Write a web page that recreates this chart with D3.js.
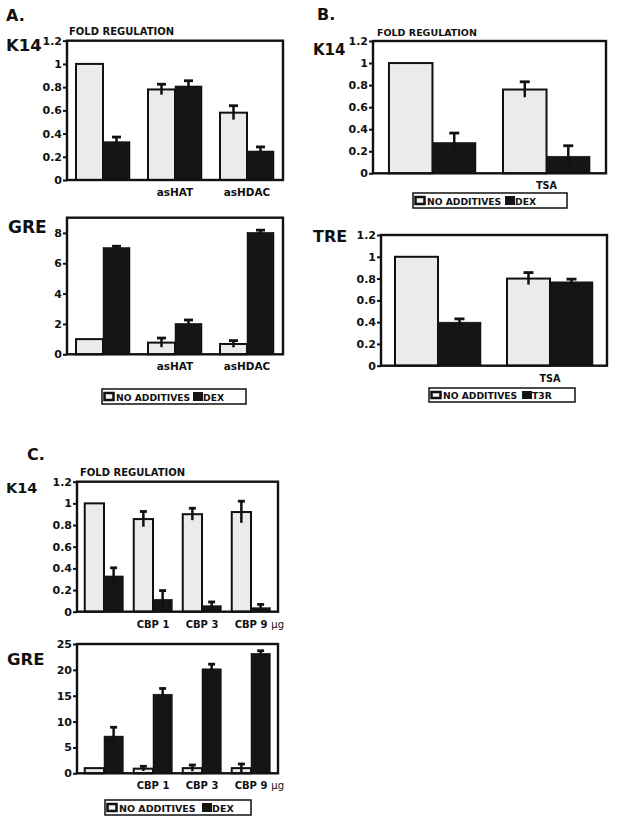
<!DOCTYPE html>
<meta charset="utf-8">
<style>
body { margin: 0; background: #fff; }
text { font-family: "DejaVu Sans", sans-serif; font-weight: bold; fill: #111; }
.tick text { font-size: 11px; }
.tick line { stroke: #111; stroke-width: 2; }
</style>
<svg width="617" height="824"></svg>
<script src="https://d3js.org/d3.v7.min.js"></script>
<script>

// panel A: K14 and GRE, antisense HAT / HDAC
var aCats = ["", "asHAT", "asHDAC"];
var aK14Light = [1.0, 0.78, 0.58],   aK14LightErr = [0, 0.045, 0.06];
var aK14Dark  = [0.33, 0.81, 0.25],  aK14DarkErr  = [0.04, 0.045, 0.035];
var aGreLight = [1.0, 0.77, 0.68],   aGreLightErr = [0, 0.3, 0.22];
var aGreDark  = [7.04, 2.04, 8.04],  aGreDarkErr  = [0.08, 0.22, 0.14];

// panel B: K14 and TRE, TSA
var bCats = ["", "TSA"];
var bK14Light = [1.0, 0.76],  bK14LightErr = [0, 0.07];
var bK14Dark  = [0.28, 0.155], bK14DarkErr = [0.085, 0.095];
var bTreLight = [1.0, 0.80],  bTreLightErr = [0, 0.055];
var bTreDark  = [0.40, 0.77], bTreDarkErr  = [0.03, 0.025];

// panel C: K14 and GRE, CBP dose
var cCats = ["", "CBP 1", "CBP 3", "CBP 9 μg"];
var cK14Light = [1.0, 0.855, 0.90, 0.92],  cK14LightErr = [0, 0.07, 0.055, 0.1];
var cK14Dark  = [0.33, 0.115, 0.055, 0.037], cK14DarkErr = [0.075, 0.08, 0.035, 0.03];
var cGreLight = [1.0, 0.9, 1.0, 1.0],      cGreLightErr = [0, 0.45, 0.6, 0.8];
var cGreDark  = [7.2, 15.3, 20.2, 23.2],   cGreDarkErr  = [1.7, 1.1, 0.9, 0.5];

var ticksFold = [0, 0.2, 0.4, 0.6, 0.8, 1, 1.2];
var ticksGreA = [0, 2, 4, 6, 8];
var ticksGreC = [0, 5, 10, 15, 20, 25];

var legendDex = ["NO ADDITIVES", "DEX"];
var legendDex2 = ["NO  ADDITIVES", "DEX"];
var legendT3r = ["NO  ADDITIVES", "T3R"];

var svg = d3.select("svg");

function panel(o) {
  var x = d3.scaleBand().domain(o.cats).range([o.left, o.right])
      .paddingInner(o.pi).paddingOuter(o.po);
  var sub = d3.scaleBand().domain(["light", "dark"]).range([0, x.bandwidth()]);
  var y = d3.scaleLinear().domain([0, o.max]).range([o.bottom, o.top]);
  var g = svg.append("g");

  var rows = o.cats.map(function(c, i) {
    return [
      {c: c, s: "light", v: o.light[i], e: o.lightErr[i]},
      {c: c, s: "dark", v: o.dark[i], e: o.darkErr[i]}
    ];
  }).flat();

  g.selectAll(".bar").data(rows).enter().append("rect")
      .attr("x", function(d) { return x(d.c) + sub(d.s); })
      .attr("y", function(d) { return y(d.v); })
      .attr("width", sub.bandwidth())
      .attr("height", function(d) { return y(0) - y(d.v); })
      .attr("fill", function(d) { return d.s == "light" ? "#ebebeb" : "#151515"; })
      .attr("stroke", "#111")
      .attr("stroke-width", function(d) { return d.s == "light" ? 2 : 0.5; });

  var errs = rows.filter(function(d) { return d.e > 0; });
  var cx = function(d) { return x(d.c) + sub(d.s) + sub.bandwidth() / 2; };
  g.selectAll(".err").data(errs).enter().append("line")
      .attr("x1", cx).attr("x2", cx)
      .attr("y1", function(d) { return y(d.v - d.e); })
      .attr("y2", function(d) { return y(d.v + d.e); })
      .attr("stroke", "#111").attr("stroke-width", 2.5);
  g.selectAll(".cap").data(errs).enter().append("line")
      .attr("x1", function(d) { return cx(d) - o.cap / 2; })
      .attr("x2", function(d) { return cx(d) + o.cap / 2; })
      .attr("y1", function(d) { return y(d.v + d.e); })
      .attr("y2", function(d) { return y(d.v + d.e); })
      .attr("stroke", "#111").attr("stroke-width", 2.8);

  g.append("rect")
      .attr("x", o.left).attr("y", o.top)
      .attr("width", o.right - o.left).attr("height", o.bottom - o.top)
      .attr("fill", "none").attr("stroke", "#111").attr("stroke-width", 2.4);

  var ax = g.append("g")
      .attr("transform", "translate(" + o.left + ",0)")
      .call(d3.axisLeft(y).tickValues(o.ticks).tickSize(4).tickPadding(1)
        .tickFormat(d3.format("~g")));
  ax.select(".domain").remove();

  o.cats.forEach(function(c) {
    if (!c) return;
    var m = x(c) + x.bandwidth() / 2;
    var parts = c.split(" μg");
    var t = g.append("text").attr("x", m).attr("y", o.bottom + 16)
        .attr("text-anchor", "middle").attr("font-size", o.labelSize).text(parts[0]);
    if (parts.length > 1) {
      var w = t.node().getComputedTextLength();
      g.append("text").attr("x", m + w / 2 + 4).attr("y", o.bottom + 16)
          .attr("font-size", o.labelSize).style("font-weight", "normal").text("μg");
    }
  });
}

function legend(x0, y0, w, h, labels, darkX, size) {
  var g = svg.append("g");
  g.append("rect").attr("x", x0).attr("y", y0).attr("width", w).attr("height", h)
      .attr("fill", "#fff").attr("stroke", "#111").attr("stroke-width", 1.5);
  g.append("rect").attr("x", x0 + 2.5).attr("y", y0 + 4).attr("width", 9).attr("height", h - 8)
      .attr("fill", "#f2f2f2").attr("stroke", "#111").attr("stroke-width", 2.5);
  g.append("text").attr("x", x0 + 14).attr("y", y0 + h - 3.5)
      .attr("font-size", size).text(labels[0]);
  g.append("rect").attr("x", darkX).attr("y", y0 + 3).attr("width", 10).attr("height", h - 6)
      .attr("fill", "#151515");
  g.append("text").attr("x", darkX + 10).attr("y", y0 + h - 3.5)
      .attr("font-size", size).text(labels[1]);
}

function label(x, y, size, s) {
  svg.append("text").attr("x", x).attr("y", y).attr("font-size", size).text(s);
}

// panel A
label(6, 21, 16, "A.");
label(69, 35, 10, "FOLD REGULATION");
label(6, 51, 16.5, "K14");
panel({cats: aCats, light: aK14Light, lightErr: aK14LightErr, dark: aK14Dark, darkErr: aK14DarkErr,
  left: 67, right: 283, top: 40.7, bottom: 180, max: 1.2, ticks: ticksFold,
  pi: 0.25, po: 0.125, cap: 9, labelSize: 10.5});
label(8, 233, 17, "GRE");
panel({cats: aCats, light: aGreLight, lightErr: aGreLightErr, dark: aGreDark, darkErr: aGreDarkErr,
  left: 67, right: 283, top: 217.7, bottom: 354.3, max: 9, ticks: ticksGreA,
  pi: 0.25, po: 0.125, cap: 9, labelSize: 10.5});
legend(102, 389, 144, 15, legendDex, 193, 9.2);

// panel B
label(317, 20, 16, "B.");
label(377, 36, 9.5, "FOLD REGULATION");
label(313, 55, 15, "K14");
panel({cats: bCats, light: bK14Light, lightErr: bK14LightErr, dark: bK14Dark, darkErr: bK14DarkErr,
  left: 373, right: 606, top: 41, bottom: 173.3, max: 1.2, ticks: ticksFold,
  pi: 0.237, po: 0.14, cap: 10, labelSize: 9.7});
legend(413, 193, 154, 15, legendDex, 505, 9.2);
label(313, 242, 16, "TRE");
panel({cats: bCats, light: bTreLight, lightErr: bTreLightErr, dark: bTreDark, darkErr: bTreDarkErr,
  left: 381, right: 607, top: 235, bottom: 365.7, max: 1.2, ticks: ticksFold,
  pi: 0.232, po: 0.125, cap: 10, labelSize: 9.7});
legend(429, 388, 146, 14, legendT3r, 522, 9.2);

// panel C
label(27, 460, 16, "C.");
label(80, 476, 10, "FOLD REGULATION");
label(6, 493, 14.5, "K14");
panel({cats: cCats, light: cK14Light, lightErr: cK14LightErr, dark: cK14Dark, darkErr: cK14DarkErr,
  left: 77, right: 278, top: 481.7, bottom: 611.7, max: 1.2, ticks: ticksFold,
  pi: 0.214, po: 0.158, cap: 7, labelSize: 10});
label(7, 665, 16.5, "GRE");
panel({cats: cCats, light: cGreLight, lightErr: cGreLightErr, dark: cGreDark, darkErr: cGreDarkErr,
  left: 77, right: 278, top: 644, bottom: 773.3, max: 25, ticks: ticksGreC,
  pi: 0.214, po: 0.158, cap: 7, labelSize: 10});
legend(105, 800, 146, 15, legendDex2, 202, 9.5);

</script>
